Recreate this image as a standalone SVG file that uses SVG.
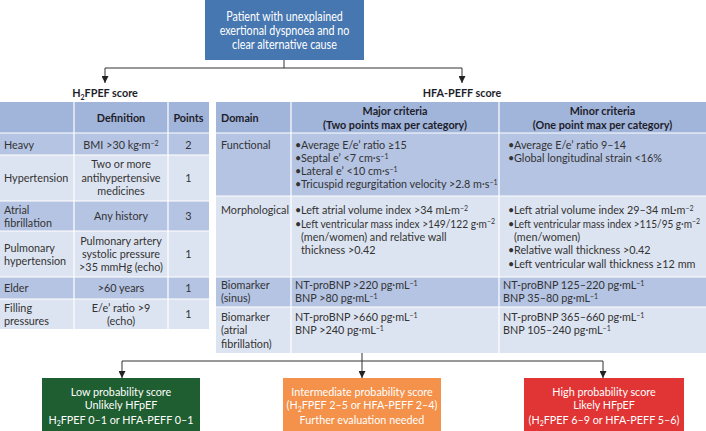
<svg xmlns="http://www.w3.org/2000/svg" width="706" height="431" viewBox="0 0 706 431">
<style>
text{font-family:Lato,"Liberation Sans",sans-serif;font-size:10.8px;fill:#333}
.b{font-weight:bold;fill:#1e1e2a}
.m{text-anchor:middle}
.w{fill:#fff}
.t{font-size:12.5px}
.sup{font-size:7px}
.hd{fill:#a1b4da}
.dk{fill:#b5c4e3}
.lt{fill:#dde4f1}
.grid{stroke:#fff;stroke-width:1.2;fill:none}
.con{stroke:#333;stroke-width:1;fill:none}
</style>
<defs>
<marker id="ah" viewBox="0 0 8 8" refX="8" refY="4" markerWidth="7" markerHeight="7" markerUnits="userSpaceOnUse" orient="auto">
<path d="M0,0 L8,4 L0,8 z" fill="#222"/>
</marker>
</defs>
<rect width="706" height="431" fill="#fff"/>

<g id="start">
<rect x="205" y="0" width="159" height="60" fill="#4677b0"/>
<g transform="translate(284.5,0) scale(0.86,1)">
<text class="w m t" x="0" y="21">Patient with unexplained</text>
<text class="w m t" x="0" y="35">exertional dyspnoea and no</text>
<text class="w m t" x="0" y="49">clear alternative cause</text>
</g>
</g>

<g id="connectors">
<path class="con" d="M284,60 V68"/>
<path class="con" d="M284,68 H105 V83" marker-end="url(#ah)"/>
<path class="con" d="M284,68 H462 V83" marker-end="url(#ah)"/>
<path class="con" d="M362,353 V361"/>
<path class="con" d="M362,361 H122 V378" marker-end="url(#ah)"/>
<path class="con" d="M362,361 V378" marker-end="url(#ah)"/>
<path class="con" d="M362,361 H603 V378" marker-end="url(#ah)"/>
</g>

<g id="h2fpef">
<text class="b m" x="105" y="97">H<tspan dy="2.5" class="sup">2</tspan><tspan dy="-2.5">FPEF score</tspan></text>
<rect class="hd" x="0" y="102" width="209" height="31"/>
<rect class="dk" x="0" y="133" width="209" height="22"/>
<rect class="lt" x="0" y="155" width="209" height="46"/>
<rect class="dk" x="0" y="201" width="209" height="30"/>
<rect class="lt" x="0" y="231" width="209" height="46"/>
<rect class="dk" x="0" y="277" width="209" height="22"/>
<rect class="lt" x="0" y="299" width="209" height="30"/>
<path class="grid" d="M74,102 V329 M168,102 V329 M0,133 H209 M0,155 H209 M0,201 H209 M0,231 H209 M0,277 H209 M0,299 H209"/>
<text class="b m" x="121" y="122">Definition</text>
<text class="b m" x="188.5" y="122">Points</text>
<text x="4" y="149">Heavy</text>
<text class="m" x="121" y="149">BMI &gt;30 kg·m<tspan dy="-3.5" class="sup">−2</tspan></text>
<text class="m" x="188.5" y="149">2</text>
<text x="4" y="182">Hypertension</text>
<text class="m" x="121" y="168">Two or more</text>
<text class="m" x="121" y="181.5">antihypertensive</text>
<text class="m" x="121" y="195">medicines</text>
<text class="m" x="188.5" y="182">1</text>
<text x="4" y="214">Atrial</text>
<text x="4" y="227">fibrillation</text>
<text class="m" x="121" y="220">Any history</text>
<text class="m" x="188.5" y="220">3</text>
<text x="4" y="252">Pulmonary</text>
<text x="4" y="265">hypertension</text>
<text class="m" x="121" y="245">Pulmonary artery</text>
<text class="m" x="121" y="258">systolic pressure</text>
<text class="m" x="121" y="271">&gt;35 mmHg (echo)</text>
<text class="m" x="188.5" y="258">1</text>
<text x="4" y="292">Elder</text>
<text class="m" x="121" y="292">&gt;60 years</text>
<text class="m" x="188.5" y="292">1</text>
<text x="4" y="312">Filling</text>
<text x="4" y="325">pressures</text>
<text class="m" x="121" y="312">E/e’ ratio &gt;9</text>
<text class="m" x="121" y="325">(echo)</text>
<text class="m" x="188.5" y="318">1</text>
</g>

<g id="hfapeff">
<text class="b m" x="462" y="97">HFA-PEFF score</text>
<rect class="hd" x="216" y="102" width="490" height="31"/>
<rect class="dk" x="216" y="133" width="490" height="63"/>
<rect class="lt" x="216" y="196" width="490" height="81"/>
<rect class="dk" x="216" y="277" width="490" height="30"/>
<rect class="lt" x="216" y="307" width="490" height="46"/>
<path class="grid" d="M291,102 V353 M499,102 V353 M216,133 H706 M216,196 H706 M216,277 H706 M216,307 H706"/>
<text class="b" x="221" y="122">Domain</text>
<text class="b m" x="395" y="115">Major criteria</text>
<text class="b m" x="395" y="129">(Two points max per category)</text>
<text class="b m" x="602.5" y="115">Minor criteria</text>
<text class="b m" x="602.5" y="129">(One point max per category)</text>

<text x="221" y="149">Functional</text>
<text x="295" y="149">•<tspan x="301">Average E/e’ ratio ≥15</tspan></text>
<text x="295" y="162">•<tspan x="301">Septal e’ &lt;7 cm·s</tspan><tspan dy="-3.5" class="sup">−1</tspan></text>
<text x="295" y="175">•<tspan x="301">Lateral e’ &lt;10 cm·s</tspan><tspan dy="-3.5" class="sup">−1</tspan></text>
<text x="295" y="188">•<tspan x="301">Tricuspid regurgitation velocity &gt;2.8 m·s</tspan><tspan dy="-3.5" class="sup">−1</tspan></text>
<text x="508" y="149">•<tspan x="514">Average E/e’ ratio 9–14</tspan></text>
<text x="508" y="162">•<tspan x="514">Global longitudinal strain &lt;16%</tspan></text>

<text x="221" y="214">Morphological</text>
<text x="295" y="214">•<tspan x="301">Left atrial volume index &gt;34 mL·m</tspan><tspan dy="-3.5" class="sup">−2</tspan></text>
<text x="295" y="227.5">•<tspan x="301" textLength="186" lengthAdjust="spacingAndGlyphs">Left ventricular mass index &gt;149/122 g·m</tspan><tspan dy="-3.5" class="sup">−2</tspan></text>
<text x="301" y="240.5">(men/women) and relative wall</text>
<text x="301" y="254">thickness &gt;0.42</text>
<text x="508" y="214">•<tspan x="514">Left atrial volume index 29–34 mL·m</tspan><tspan dy="-3.5" class="sup">−2</tspan></text>
<text x="508" y="227.5">•<tspan x="514" textLength="178" lengthAdjust="spacingAndGlyphs">Left ventricular mass index &gt;115/95 g·m</tspan><tspan dy="-3.5" class="sup">−2</tspan></text>
<text x="514" y="240.5">(men/women)</text>
<text x="508" y="253.5">•<tspan x="514">Relative wall thickness &gt;0.42</tspan></text>
<text x="508" y="268">•<tspan x="514">Left ventricular wall thickness ≥12 mm</tspan></text>

<text x="221" y="289">Biomarker</text>
<text x="221" y="302">(sinus)</text>
<text x="295" y="289">NT-proBNP &gt;220 pg·mL<tspan dy="-3.5" class="sup">−1</tspan></text>
<text x="295" y="302">BNP &gt;80 pg·mL<tspan dy="-3.5" class="sup">−1</tspan></text>
<text x="503" y="289">NT-proBNP 125–220 pg·mL<tspan dy="-3.5" class="sup">−1</tspan></text>
<text x="503" y="302">BNP 35–80 pg·mL<tspan dy="-3.5" class="sup">−1</tspan></text>

<text x="221" y="321">Biomarker</text>
<text x="221" y="334">(atrial</text>
<text x="221" y="348">fibrillation)</text>
<text x="295" y="321">NT-proBNP &gt;660 pg·mL<tspan dy="-3.5" class="sup">−1</tspan></text>
<text x="295" y="334">BNP &gt;240 pg·mL<tspan dy="-3.5" class="sup">−1</tspan></text>
<text x="503" y="321">NT-proBNP 365–660 pg·mL<tspan dy="-3.5" class="sup">−1</tspan></text>
<text x="503" y="334">BNP 105–240 pg·mL<tspan dy="-3.5" class="sup">−1</tspan></text>
</g>

<g id="low">
<rect x="42" y="378" width="158" height="53" fill="#1e5e30"/>
<text class="w m" x="121" y="395.5">Low probability score</text>
<text class="w m" x="121" y="409">Unlikely HFpEF</text>
<text class="w m" x="121" y="423.5">H<tspan dy="2.5" class="sup">2</tspan><tspan dy="-2.5">FPEF 0–1 or HFA-PEFF 0–1</tspan></text>
</g>

<g id="intermediate">
<rect x="283" y="378" width="158" height="53" fill="#f4914a"/>
<text class="w m" x="362" y="395.5">Intermediate probability score</text>
<text class="w m" x="362" y="409">(H<tspan dy="2.5" class="sup">2</tspan><tspan dy="-2.5">FPEF 2–5 or HFA-PEFF 2–4)</tspan></text>
<text class="w m" x="362" y="423.5">Further evaluation needed</text>
</g>

<g id="high">
<rect x="524" y="378" width="160" height="53" fill="#e13434"/>
<text class="w m" x="604" y="395.5">High probability score</text>
<text class="w m" x="604" y="409">Likely HFpEF</text>
<text class="w m" x="604" y="423.5">(H<tspan dy="2.5" class="sup">2</tspan><tspan dy="-2.5">FPEF 6–9 or HFA-PEFF 5–6)</tspan></text>
</g>
</svg>
